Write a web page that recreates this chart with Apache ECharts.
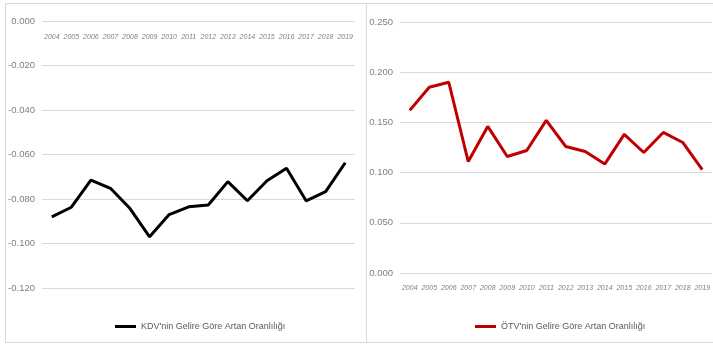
<!DOCTYPE html>
<html>
<head>
<meta charset="utf-8">
<script src="https://cdn.jsdelivr.net/npm/echarts@6/dist/echarts.min.js"></script>
<style>
  html, body { margin: 0; padding: 0; background: #fff; }
  #chart { width: 713px; height: 344px; }
</style>
</head>
<body>
<div id="chart"></div>
<script>
const years = ['2004', '2005', '2006', '2007', '2008', '2009', '2010', '2011',
  '2012', '2013', '2014', '2015', '2016', '2017', '2018', '2019']

const kdvName = "KDV'nin Gelire Göre Artan Oranlılığı"
const kdvValues = [-0.088, -0.0837, -0.0715, -0.0752, -0.0843, -0.097, -0.087, -0.0835,
  -0.0827, -0.0722, -0.0808, -0.0718, -0.0662, -0.0808, -0.0767, -0.0637]

const otvName = "ÖTV'nin Gelire Göre Artan Oranlılığı"
const otvValues = [0.162, 0.185, 0.190, 0.111, 0.146, 0.116, 0.122, 0.152,
  0.126, 0.121, 0.1085, 0.138, 0.120, 0.140, 0.130, 0.103]

const font = "'Liberation Sans', Arial, sans-serif"
const gridColor = '#d9d9d9'
const labelColor = '#7f7f7f'

const myChart = echarts.init(document.getElementById('chart'))

const yLabel = {
  color: labelColor,
  fontFamily: font,
  fontSize: 9.5,
  margin: 7,
  formatter: v => v.toFixed(3)
}

const xLabel = {
  color: labelColor,
  fontFamily: font,
  fontSize: 7,
  fontStyle: 'italic',
  interval: 0
}

const legendText = { color: '#595959', fontFamily: font, fontSize: 9 }

const option = {
  backgroundColor: '#fff',
  animation: false,
  graphic: [
    // panel frames
    { type: 'rect', shape: { x: 5.5, y: 3.5, width: 361, height: 339 },
      style: { fill: 'none', stroke: gridColor, lineWidth: 1 } },
    { type: 'rect', shape: { x: 366.5, y: 3.5, width: 360, height: 339 },
      style: { fill: 'none', stroke: gridColor, lineWidth: 1 } }
  ],
  grid: [
    { left: 42, top: 21, width: 313, height: 267 },
    { left: 400, top: 22, width: 313, height: 251 }
  ],
  legend: [
    {
      data: [kdvName], left: 110, top: 317,
      icon: 'rect', itemWidth: 21, itemHeight: 3,
      textStyle: legendText
    },
    {
      data: [otvName], left: 470, top: 317,
      icon: 'rect', itemWidth: 21, itemHeight: 3,
      textStyle: legendText
    }
  ],
  xAxis: [
    {
      // left chart: years sit just under the 0.000 line at the top
      type: 'category', gridIndex: 0, data: years, position: 'top',
      axisLine: { show: false }, axisTick: { show: false },
      axisLabel: { ...xLabel, inside: true, margin: 13 }
    },
    {
      type: 'category', gridIndex: 1, data: years,
      axisLine: { show: false }, axisTick: { show: false },
      axisLabel: { ...xLabel, margin: 12 }
    }
  ],
  yAxis: [
    {
      type: 'value', gridIndex: 0, min: -0.12, max: 0, interval: 0.02,
      axisLine: { show: false }, axisTick: { show: false },
      axisLabel: yLabel,
      splitLine: { lineStyle: { color: gridColor, width: 1 } }
    },
    {
      type: 'value', gridIndex: 1, min: 0, max: 0.25, interval: 0.05,
      axisLine: { show: false }, axisTick: { show: false },
      axisLabel: yLabel,
      splitLine: { lineStyle: { color: gridColor, width: 1 } }
    }
  ],
  series: [
    {
      name: kdvName, type: 'line', xAxisIndex: 0, yAxisIndex: 0,
      data: kdvValues, symbol: 'none', color: '#000000',
      lineStyle: { width: 3, color: '#000000' }
    },
    {
      name: otvName, type: 'line', xAxisIndex: 1, yAxisIndex: 1,
      data: otvValues, symbol: 'none', color: '#c00000',
      lineStyle: { width: 3, color: '#c00000' }
    }
  ]
}

myChart.setOption(option)
</script>
</body>
</html>
